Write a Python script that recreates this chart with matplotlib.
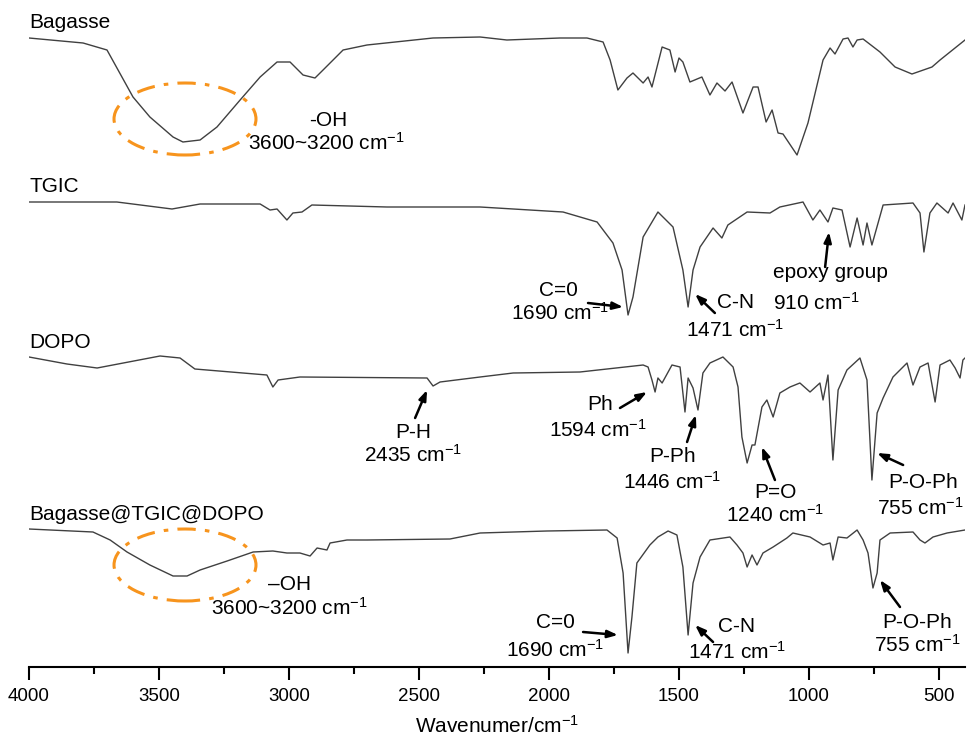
import numpy as np
import matplotlib.pyplot as plt
from matplotlib.patches import Ellipse
from matplotlib.ticker import MultipleLocator

plt.rcParams['font.family'] = ['Liberation Sans', 'DejaVu Sans']
plt.rcParams['mathtext.fontset'] = 'custom'
plt.rcParams['mathtext.rm'] = 'Liberation Sans'
plt.rcParams['mathtext.it'] = 'Liberation Sans:italic'

# --- spectra (wavenumber, stacked transmittance in a.u.) ---
bag_w = [4000, 3792, 3700, 3600, 3535, 3446, 3408, 3342, 3277, 3188, 3111, 3046, 2996, 2946, 2900,
         2869, 2792, 2700, 2446, 2265, 2162, 1958, 1854, 1792, 1765, 1735, 1700, 1677, 1638, 1619,
         1604, 1565, 1535, 1515, 1500, 1485, 1458, 1412, 1381, 1354, 1323, 1296, 1254, 1215, 1196,
         1165, 1142, 1119, 1100, 1046, 1004, 946, 919, 900, 869, 850, 831, 815, 792, 727, 669, 604,
         527, 496, 400]
bag_t = [629, 624, 617, 570, 550, 530, 525, 527, 540, 567, 590, 605, 605, 592, 589,
         597, 617, 622, 629, 630, 627, 629, 629, 625, 607, 577, 589, 594, 584, 590,
         580, 620, 617, 595, 609, 605, 585, 590, 572, 584, 576, 585, 554, 580, 580,
         545, 557, 534, 533, 512, 544, 607, 619, 613, 628, 629, 620, 627, 628, 615, 600, 593,
         600, 607, 627]

tgic_w = [4000, 3662, 3450, 3342, 3111, 3073, 3046, 3008, 2985, 2950, 2912, 2623, 2265, 1946, 1815,
          1754, 1719, 1696, 1677, 1638, 1581, 1523, 1485, 1465, 1446, 1419, 1369, 1335, 1312, 1238,
          1150, 1112, 1023, 985, 958, 927, 908, 873, 842, 815, 792, 777, 758, 715, 600, 573, 558,
          535, 508, 465, 446, 412, 400]
tgic_t = [465, 465, 458, 463, 463, 457, 458, 447, 454, 455, 462, 460, 460, 455, 445,
          424, 397, 352, 370, 430, 455, 440, 397, 360, 397, 420, 439, 429, 442, 455,
          454, 460, 465, 447, 457, 445, 459, 457, 420, 449, 422, 444, 422, 462, 464, 454, 415,
          454, 464, 454, 464, 447, 462]

dopo_w = [4000, 3854, 3738, 3496, 3419, 3362, 3085, 3062, 3042, 2958, 2469, 2446, 2419, 2265, 2138,
          1881, 1638, 1619, 1604, 1592, 1581, 1565, 1527, 1496, 1477, 1465, 1446, 1427, 1408, 1381,
          1331, 1292, 1273, 1258, 1238, 1219, 1208, 1181, 1162, 1138, 1112, 1073, 1035, 996, 958,
          946, 927, 908, 888, 854, 804, 777, 758, 738, 715, 677, 623, 600, 573, 542, 515, 496,
          458, 438, 419, 408, 400]
dopo_t = [310, 303, 299, 311, 309, 298, 292, 280, 287, 290, 289, 281, 285, 290, 294,
          295, 302, 300, 287, 275, 289, 284, 302, 300, 255, 289, 279, 257, 294, 304,
          310, 300, 280, 230, 204, 222, 222, 260, 267, 250, 274, 280, 284, 275, 284,
          267, 292, 207, 277, 297, 309, 287, 187, 254, 269, 290, 304, 282, 300, 304, 265, 302,
          307, 299, 289, 307, 309]

comp_w = [4000, 3754, 3688, 3623, 3535, 3446, 3392, 3342, 3238, 3138, 3062, 3008, 2958, 2919, 2892,
          2854, 2842, 2777, 2700, 2381, 2265, 2008, 1777, 1738, 1715, 1696, 1681, 1662, 1612, 1581,
          1542, 1508, 1485, 1465, 1446, 1419, 1381, 1304, 1277, 1254, 1238, 1219, 1200, 1177, 1138,
          1085, 1062, 996, 946, 919, 908, 888, 854, 815, 792, 773, 754, 738, 727, 688, 600, 573,
          554, 523, 469, 400]
comp_t = [138, 135, 127, 115, 102, 91, 91, 97, 106, 115, 116, 114, 114, 111, 119,
          117, 124, 127, 127, 128, 134, 136, 137, 129, 94, 14, 50, 104, 122, 130,
          136, 132, 100, 32, 84, 110, 127, 130, 122, 114, 100, 112, 102, 114, 120,
          129, 134, 130, 122, 124, 107, 130, 129, 137, 127, 114, 79, 94, 127, 134, 135, 127,
          124, 130, 134, 137]

names = ['Bagasse', 'TGIC', 'DOPO', 'Bagasse@TGIC@DOPO']
name_y = [645, 481, 324, 152]

fig = plt.figure(figsize=(9.67, 7.37), dpi=100)
ax = fig.add_axes([29 / 967, 70 / 737, 936 / 967, 667 / 737])

for w, t in [(bag_w, bag_t), (tgic_w, tgic_t), (dopo_w, dopo_t), (comp_w, comp_t)]:
    ax.plot(w, t, color='#404040', lw=1.0)

ax.set_xlim(4000, 400)
ax.set_ylim(0, 667)

# axis styling: only bottom axis
for s in ['top', 'right', 'left']:
    ax.spines[s].set_visible(False)
ax.spines['bottom'].set_linewidth(1.5)
ax.set_yticks([])
ax.xaxis.set_major_locator(MultipleLocator(500))
ax.xaxis.set_minor_locator(MultipleLocator(250))
ax.tick_params(axis='x', which='major', direction='out', length=9, width=1.5, labelsize=13.5, pad=6)
ax.tick_params(axis='x', which='minor', direction='out', length=5, width=1.5)
ax.set_xlabel('Wavenumer/cm$^{-1}$', fontsize=15, labelpad=7)

fs = 15
for n, y in zip(names, name_y):
    ax.text(4000, y, n, fontsize=fs, ha='left', va='center')

# -OH ellipses
for cy in [548, 102]:
    ax.add_patch(Ellipse((3400, cy), 546, 72, fill=False, ec='#f7941d', lw=2.2,
                         ls=(0, (6, 3, 1.5, 3))))

cm = ' cm$^{-1}$'
labels = [
    ('-OH', 2850, 547, 'center'), ('3600~3200' + cm, 3158, 524, 'left'),
    ('C=0', 1965, 377, 'center'), ('1690' + cm, 1958, 354, 'center'),
    ('C-N', 1354, 364, 'left'), ('1471' + cm, 1285, 337, 'center'),
    ('epoxy group', 1138, 394, 'left'), ('910' + cm, 1138, 364, 'left'),
    ('P-H', 2523, 235, 'center'), ('2435' + cm, 2523, 212, 'center'),
    ('Ph', 1804, 262, 'center'), ('1594' + cm, 1812, 237, 'center'),
    ('P-Ph', 1523, 210, 'center'), ('1446' + cm, 1527, 185, 'center'),
    ('P=O', 1131, 175, 'center'), ('1240' + cm, 1131, 152, 'center'),
    ('P-O-Ph', 562, 184, 'center'), ('755' + cm, 573, 159, 'center'),
    ('\u2013OH', 3081, 82, 'left'), ('3600~3200' + cm, 3300, 59, 'left'),
    ('C=0', 1977, 44, 'center'), ('1690' + cm, 1977, 17, 'center'),
    ('C-N', 1277, 40, 'center'), ('1471' + cm, 1277, 15, 'center'),
    ('P-O-Ph', 585, 45, 'center'), ('755' + cm, 585, 22, 'center'),
]
for txt, x, y, ha in labels:
    ax.text(x, y, txt, fontsize=fs, ha=ha, va='center')

# arrows: (tail, tip)
arrows = [
    ((1850, 364), (1715, 360)), ((1362, 354), (1438, 373)), ((938, 400), (923, 435)),
    ((2515, 249), (2469, 277)), ((1727, 259), (1623, 275)), ((1469, 225), (1435, 252)),
    ((1131, 187), (1181, 220)), ((638, 202), (738, 214)),
    ((1869, 35), (1735, 32)), ((1369, 25), (1438, 42)), ((650, 60), (727, 87)),
]
for tail, tip in arrows:
    ax.annotate('', xy=tip, xytext=tail,
                arrowprops=dict(arrowstyle='-|>,head_length=0.6,head_width=0.22',
                                lw=1.8, color='black', shrinkA=0, shrinkB=0))

fig.savefig('out.png', dpi=100)
